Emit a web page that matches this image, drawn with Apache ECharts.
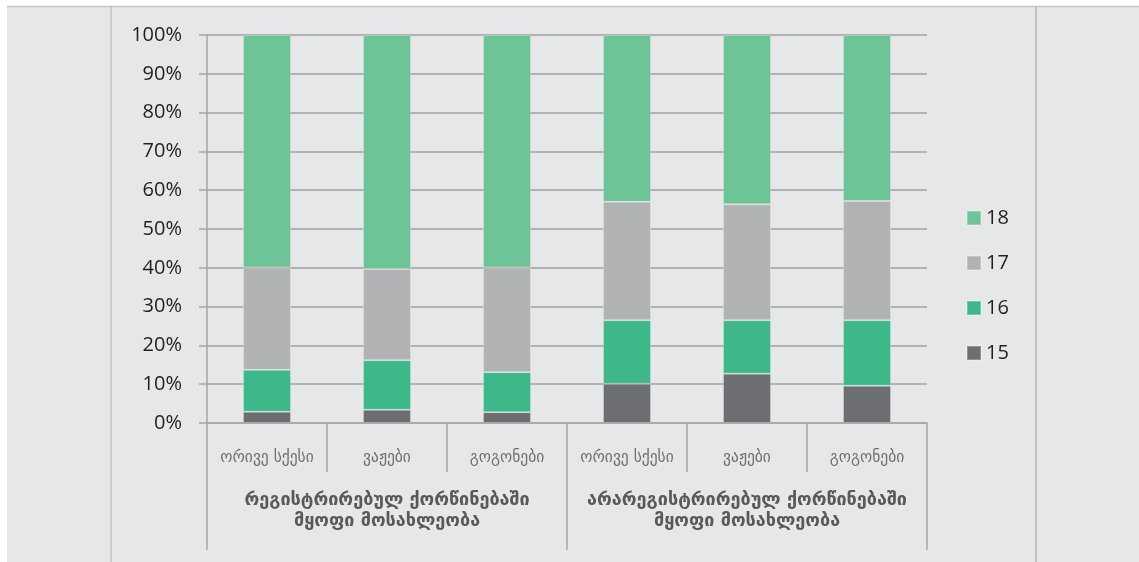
<!DOCTYPE html>
<html>
<head>
<meta charset="utf-8">
<script src="https://cdn.jsdelivr.net/npm/echarts@6/dist/echarts.min.js"></script>
<style>html,body{margin:0;padding:0;background:#fff}#c{width:1139px;height:562px}</style>
</head>
<body>
<div id="c"></div>
<script>
const categories = ['ორივე სქესი', 'ვაჟები', 'გოგონები', 'ორივე სქესი', 'ვაჟები', 'გოგონები'];
const groups = ['რეგისტრირებულ ქორწინებაში\nმყოფი მოსახლეობა', 'არარეგისტრირებულ ქორწინებაში\nმყოფი მოსახლეობა'];
const yTicks = [0, 10, 20, 30, 40, 50, 60, 70, 80, 90, 100];
const seriesNames = ['15', '16', '17', '18'];
const v15 = [2.9, 3.4, 2.8, 10.1, 12.7, 9.6];
const v16 = [10.8, 12.8, 10.3, 16.4, 13.8, 16.9];
const v17 = [26.4, 23.5, 27.0, 30.5, 29.9, 30.7];
const v18 = [59.9, 60.3, 59.9, 43.0, 43.6, 42.8];
const values = [v15, v16, v17, v18];
const colors = ['#6d6e71', '#3eb88a', '#b1b2b3', '#6cc497'];

const chart = echarts.init(document.getElementById('c'), null, {renderer: 'canvas'});
const axisGray = '#a6a6a6';
chart.setOption({
  backgroundColor: '#ffffff',
  animation: false,
  graphic: [
    {type: 'rect', z: -10, shape: {x: 7, y: 6, width: 1132, height: 556}, style: {fill: '#e6e7e8'}},
    {type: 'line', z: -9, shape: {x1: 7, y1: 6.5, x2: 1139, y2: 6.5}, style: {stroke: '#c8c8c8', lineWidth: 1.5}},
    {type: 'line', z: -9, shape: {x1: 111, y1: 6, x2: 111, y2: 562}, style: {stroke: '#b3b3b3', lineWidth: 1}},
    {type: 'line', z: -9, shape: {x1: 1036, y1: 6, x2: 1036, y2: 562}, style: {stroke: '#b3b3b3', lineWidth: 1.5}}
  ],
  grid: {left: 207, right: 212, top: 35, bottom: 139, containLabel: false},
  legend: {
    data: ['18', '17', '16', '15'],
    orient: 'vertical',
    left: 961, top: 203,
    icon: 'rect', itemWidth: 14, itemHeight: 14, itemGap: 25,
    textStyle: {fontSize: 20, color: '#231f20', fontFamily: 'Open Sans'}
  },
  xAxis: [
    {
      type: 'category', data: categories, position: 'bottom',
      axisLine: {show: true, lineStyle: {color: axisGray, width: 1.5}},
      axisTick: {show: true, length: 49, interval: 0, lineStyle: {color: axisGray, width: 1.5}},
      axisLabel: {interval: 0, margin: 27, fontSize: 15.5, color: '#6d6e71', fontFamily: 'DejaVu Sans'}
    },
    {
      type: 'category', data: groups, position: 'bottom',
      axisLine: {show: false},
      axisTick: {show: true, length: 127, interval: 0, lineStyle: {color: axisGray, width: 1.5}},
      axisLabel: {interval: 0, margin: 67, fontSize: 18, fontWeight: 'bold', color: '#58595b', lineHeight: 21, fontFamily: 'DejaVu Sans'}
    }
  ],
  yAxis: {
    type: 'value', min: yTicks[0], max: yTicks[yTicks.length - 1], interval: 10,
    axisLine: {show: true, lineStyle: {color: axisGray, width: 1.5}},
    axisTick: {show: true, length: 8, lineStyle: {color: axisGray, width: 1.5}},
    axisLabel: {margin: 25, fontSize: 20, color: '#231f20', fontFamily: 'Open Sans', formatter: '{value}%'},
    splitLine: {show: true, lineStyle: {color: '#a0a0a0', width: 1.5}}
  },
  series: seriesNames.map((n, i) => ({
    name: n, type: 'bar', stack: 'total', xAxisIndex: 0, barWidth: '40%',
    data: values[i],
    itemStyle: {color: colors[i], borderColor: 'rgba(255,255,255,0.25)', borderWidth: 1}
  }))
});
</script>
</body>
</html>
